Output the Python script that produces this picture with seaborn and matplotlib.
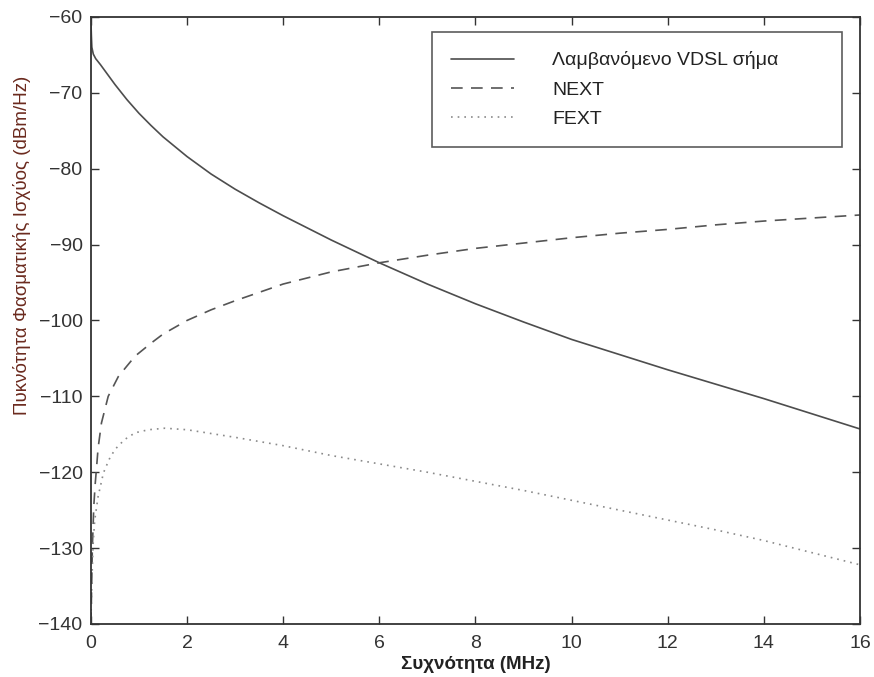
import matplotlib
matplotlib.use("Agg")
import matplotlib.pyplot as plt
import seaborn as sns

freq_signal = [0.0, 0.01, 0.02, 0.05, 0.1, 0.2, 0.35, 0.5, 0.75, 1.0, 1.25, 1.5, 1.75, 2.0, 2.5, 3.0, 3.5, 4.0, 5.0, 6.0, 7.0, 8.0, 9.0, 10.0, 11.0, 12.0, 13.0, 14.0, 15.0, 16.0]
signal = [-60.3, -62.5, -64.0, -64.9, -65.5, -66.3, -67.6, -68.9, -70.9, -72.7, -74.3, -75.8, -77.1, -78.4, -80.7, -82.7, -84.5, -86.2, -89.4, -92.4, -95.2, -97.8, -100.2, -102.5, -104.5, -106.5, -108.4, -110.3, -112.3, -114.3]

freq_next = [0.0, 0.01, 0.03, 0.06, 0.09, 0.12, 0.15, 0.22, 0.36, 0.57, 0.75, 0.92, 1.25, 1.5, 2.0, 2.5, 3.0, 3.5, 4.0, 5.0, 6.0, 7.0, 8.0, 9.0, 10.0, 11.0, 12.0, 13.0, 14.0, 15.0, 16.0]
next_xt = [-140.0, -137.0, -130.0, -124.5, -121.5, -119.2, -116.8, -113.5, -110.0, -107.4, -106.0, -104.7, -103.0, -101.8, -100.0, -98.6, -97.4, -96.3, -95.2, -93.6, -92.4, -91.4, -90.5, -89.8, -89.1, -88.5, -88.0, -87.4, -86.9, -86.5, -86.1]

freq_fext = [0.0, 0.01, 0.03, 0.05, 0.08, 0.15, 0.26, 0.38, 0.5, 0.7, 0.92, 1.2, 1.54, 2.0, 2.5, 3.0, 4.0, 5.0, 6.0, 7.0, 8.0, 9.0, 10.0, 11.0, 12.0, 13.0, 14.0, 15.0, 16.0]
fext = [-140.0, -137.0, -132.5, -129.0, -126.3, -123.2, -120.1, -118.3, -117.0, -115.7, -114.8, -114.4, -114.2, -114.4, -114.9, -115.4, -116.5, -117.8, -118.9, -120.0, -121.2, -122.4, -123.7, -125.0, -126.3, -127.6, -129.0, -130.6, -132.2]

labels = ["Λαμβανόμενο VDSL σήμα", "NEXT", "FEXT"]
x_ticks = [0, 2, 4, 6, 8, 10, 12, 14, 16]
y_ticks = [-140, -130, -120, -110, -100, -90, -80, -70, -60]

sns.set_theme(style="ticks")
plt.rcParams['font.family'] = ['Liberation Sans', 'DejaVu Sans']

fig = plt.figure(figsize=(8.74, 6.77), dpi=100)
ax = fig.add_axes([0.104, 0.0783, 0.88, 0.8967])

sns.lineplot(x=freq_signal, y=signal, ax=ax, color="#4d4d4d", linewidth=1.2, label=labels[0])
sns.lineplot(x=freq_next, y=next_xt, ax=ax, color="#555555", linewidth=1.2, linestyle=(0, (7, 5)), label=labels[1])
sns.lineplot(x=freq_fext, y=fext, ax=ax, color="#8a8a8a", linewidth=1.2, linestyle=(0, (1, 3)), label=labels[2])

ax.set_xlim(0, 16)
ax.set_ylim(-140, -60)
ax.set_xticks(x_ticks)
ax.set_yticks(y_ticks)
ax.set_xticklabels([str(t) for t in x_ticks])
ax.set_yticklabels([str(t).replace("-", "\u2212") for t in y_ticks])
ax.tick_params(direction="in", length=6, width=1.0, colors="#333333", labelsize=14,
               top=True, right=True, labelcolor="#333333", pad=6)
ax.tick_params(axis="x", pad=8)
for s in ax.spines.values():
    s.set_color("#333333")
    s.set_linewidth(1.3)

ax.set_xlabel("Συχνότητα (MHz)", fontsize=13.5, fontweight="bold", color="#222222", labelpad=3)
ax.set_ylabel("Πυκνότητα Φασματικής Ισχύος (dBm/Hz)", fontsize=13.5, color="#6b2a1e")
ax.yaxis.set_label_coords(-0.078, 0.624)

leg = ax.legend(loc="upper left", bbox_to_anchor=(0.4434, 0.789, 0.5332, 0.1863), mode="expand",
                borderaxespad=0, frameon=True, fancybox=False,
                fontsize=14, handlelength=3.2, handletextpad=2.0, labelspacing=0.6,
                borderpad=1.0, edgecolor="#333333")
leg.get_frame().set_linewidth(1.2)
for t in leg.get_texts():
    t.set_color("#222222")

fig.savefig("out.png", dpi=100)
